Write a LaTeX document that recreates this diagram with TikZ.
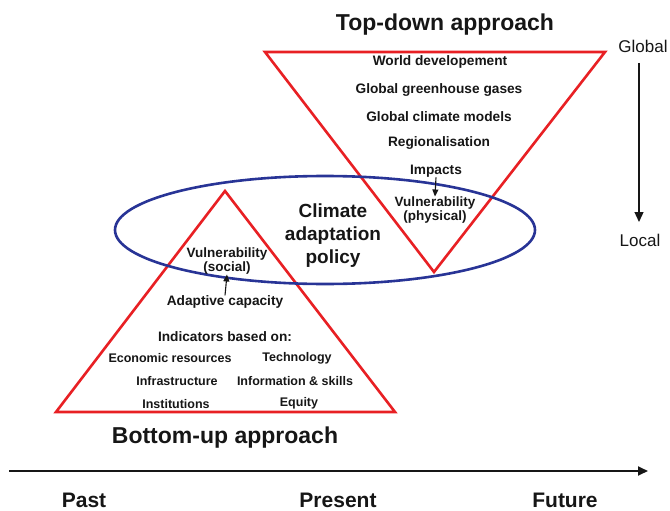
\documentclass[tikz,border=0pt]{standalone}
\usepackage{fontspec}
\setmainfont{Liberation Sans}
\usetikzlibrary{arrows.meta}
\definecolor{tred}{RGB}{232,32,36}
\definecolor{tblue}{RGB}{40,52,150}
\definecolor{tgray}{RGB}{22,22,22}
\begin{document}
\begin{tikzpicture}[x=1pt,y=-1pt,
  small/.style={font=\bfseries\fontsize{13.7}{15}\selectfont,text=tgray,inner sep=0pt,align=center},
  item/.style={font=\bfseries\fontsize{12.5}{14}\selectfont,text=tgray,inner sep=0pt,align=center},
  big/.style={font=\bfseries\fontsize{23}{25}\selectfont,text=tgray,inner sep=0pt,align=center},
  mid/.style={font=\bfseries\fontsize{19}{23}\selectfont,text=tgray,inner sep=0pt,align=center},
  scale lbl/.style={font=\fontsize{17}{19}\selectfont,text=tgray,inner sep=0pt},
  time lbl/.style={font=\bfseries\fontsize{21}{23}\selectfont,text=tgray,inner sep=0pt},
  tri/.style={draw=tred,line width=2.6pt,line join=miter},
  arr/.style={-{Triangle[length=7pt,width=6pt]},line width=1.1pt,draw=tgray},
  longarr/.style={-{Triangle[length=10pt,width=9pt]},draw=tgray}]
\useasboundingbox (0,0) rectangle (670,511);
% shapes
\draw[tri] (265,52) -- (605,52) -- (434,272) -- cycle;
\draw[tri] (225,191) -- (395,412) -- (56,412) -- cycle;
\draw[draw=tblue,line width=2.6pt] (325,230) ellipse [x radius=210, y radius=54];
% top-down texts
\node[big] (td) at (445,25) {Top-down approach};
\node[small] (wd) at (440,62) {World developement};
\node[small] (ggg) at (439,90) {Global greenhouse gases};
\node[small] (gcm) at (439,117) {Global climate models};
\node[small] (reg) at (439,143) {Regionalisation};
\node[small] (imp) at (436,171) {Impacts};
\node[small,font=\bfseries\fontsize{13.5}{15}\selectfont] (vph) at (435,210) {Vulnerability\\[-1pt](physical)};
\draw[arr] (imp.south) -- (vph.north);
% scale
\node[scale lbl] (glob) at (643,46) {Global};
\node[scale lbl] (loc) at (640,240) {Local};
\coordinate (g0) at (639,63);
\coordinate (l0) at (639,222);
\draw[longarr,line width=1.3pt] (g0) -- (l0);
% policy
\node[mid] (pol) at (333,236) {Climate\\adaptation\\policy};
% bottom-up texts
\node[small,font=\bfseries\fontsize{13.5}{15}\selectfont] (vso) at (227,261) {Vulnerability\\[-1pt](social)};
\node[small] (ac) at (225,302) {Adaptive capacity};
\draw[arr] (ac.north) -- (vso.south);
\node[small] (ind) at (225,337) {Indicators based on:};
\node[item] (eco) at (170,358) {Economic resources};
\node[item] (tec) at (297,358) {Technology};
\node[item] (inf) at (177,381) {Infrastructure};
\node[item] (info) at (295,381) {Information \& skills};
\node[item] (ins) at (176,404) {Institutions};
\node[item] (eq) at (299,403) {Equity};
\node[big] (bu) at (225,438) {Bottom-up approach};
% timeline
\coordinate (t0) at (9,471);
\coordinate (t1) at (648,471);
\draw[longarr,line width=1.8pt] (t0) -- (t1);
\node[time lbl] (past) at (84,500) {Past};
\node[time lbl] (pres) at (338,500) {Present};
\node[time lbl] (fut) at (565,500) {Future};
\end{tikzpicture}
\end{document}
